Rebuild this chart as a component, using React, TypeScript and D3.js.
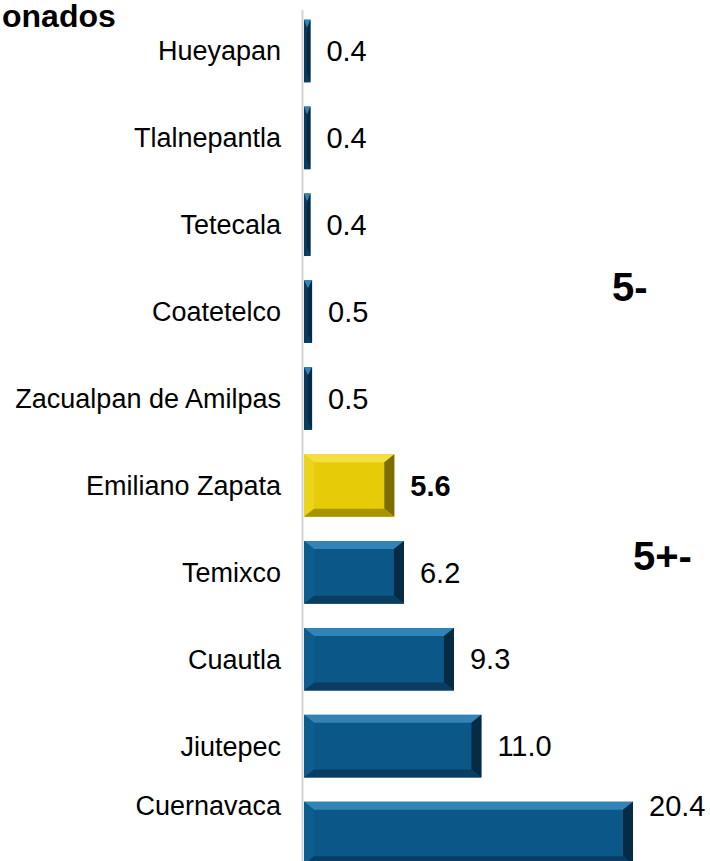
import * as d3 from 'd3';

// municipalities, top to bottom
const categories = [
  'Hueyapan',
  'Tlalnepantla',
  'Tetecala',
  'Coatetelco',
  'Zacualpan de Amilpas',
  'Emiliano Zapata',
  'Temixco',
  'Cuautla',
  'Jiutepec',
  'Cuernavaca',
];
const values = [0.4, 0.4, 0.4, 0.5, 0.5, 5.6, 6.2, 9.3, 11.0, 20.4];
const highlighted = 'Emiliano Zapata';
const groupLabels = ['5-', '5+-'];
const titleText = 'onados';

const W = 710;
const H = 861;
const FONT = '"Liberation Sans", Arial, sans-serif';

const palette = {
  blue: { face: '#0b5888', top: '#3384b6', left: '#0d5d8e', right: '#062b45', bottom: '#093e62' },
  yellow: { face: '#e6cc08', top: '#f4df40', left: '#ecd31c', right: '#7d6c00', bottom: '#a99400' },
};

type Shade = typeof palette.blue;

const BevelBar = ({ x0, y0, w, h, c }: { x0: number; y0: number; w: number; h: number; c: Shade }) => {
  const bx = Math.min(10, w / 2);
  const by = Math.min(8, h / 2);
  const x1 = x0 + w;
  const y1 = y0 + h;
  const pts = (p: number[][]) => p.map((d) => d.join(',')).join(' ');
  const thin = w < 12;
  return (
    <g>
      <rect x={x0} y={y0} width={w} height={h} fill={thin ? '#0a3a5e' : c.face} />
      <polygon points={pts([[x0, y0], [x1, y0], [x1 - bx, y0 + by], [x0 + bx, y0 + by]])} fill={c.top} />
      {!thin && (
        <polygon points={pts([[x0, y0], [x0 + bx, y0 + by], [x0 + bx, y1 - by], [x0, y1]])} fill={c.left} />
      )}
      <polygon points={pts([[x1, y0], [x1, y1], [x1 - bx, y1 - by], [x1 - bx, y0 + by]])} fill={c.right} />
      <polygon points={pts([[x0, y1], [x0 + bx, y1 - by], [x1 - bx, y1 - by], [x1, y1]])} fill={c.bottom} />
    </g>
  );
};

export default function App() {
  const x = d3.scaleLinear().domain([0, 20.4]).range([304, 633]);
  const y = d3
    .scaleBand<string>()
    .domain(categories)
    .range([7.5, 876.5])
    .paddingInner(0.28)
    .paddingOuter(0.14);

  // labels of the last (cropped) bar stay inside the picture
  const labelY = (c: string) => Math.min((y(c) ?? 0) + y.bandwidth() / 2, H - 55);

  return (
    <div style={{ position: 'absolute', left: 0, top: 0 }}>
      <svg width={W} height={H} style={{ display: 'block', fontFamily: FONT }}>
        <rect width={W} height={H} fill="#fff" />
        <text x={2} y={27} fontSize={32} fontWeight="bold" fill="#000">
          {titleText}
        </text>

        {/* axis line */}
        <line x1={302.5} x2={302.5} y1={10} y2={H} stroke="#d3d3d3" strokeWidth={2} />

        {categories.map((c, i) => {
          const isHi = c === highlighted;
          return (
            <g key={c}>
              <BevelBar
                x0={x(0)}
                y0={y(c) ?? 0}
                w={x(values[i]) - x(0)}
                h={y.bandwidth()}
                c={isHi ? palette.yellow : palette.blue}
              />
              <text x={281} y={labelY(c)} dy="0.35em" textAnchor="end" fontSize={27} fill="#000">
                {c}
              </text>
              <text
                x={x(values[i]) + 16}
                y={labelY(c)}
                dy="0.35em"
                fontSize={29}
                fontWeight={isHi ? 'bold' : 'normal'}
                fill="#000"
              >
                {values[i].toFixed(1)}
              </text>
            </g>
          );
        })}

        <text x={612} y={301} fontSize={40} fontWeight="bold" fill="#000">
          {groupLabels[0]}
        </text>
        <text x={633} y={570} fontSize={40} fontWeight="bold" fill="#000">
          {groupLabels[1]}
        </text>
      </svg>
    </div>
  );
}
